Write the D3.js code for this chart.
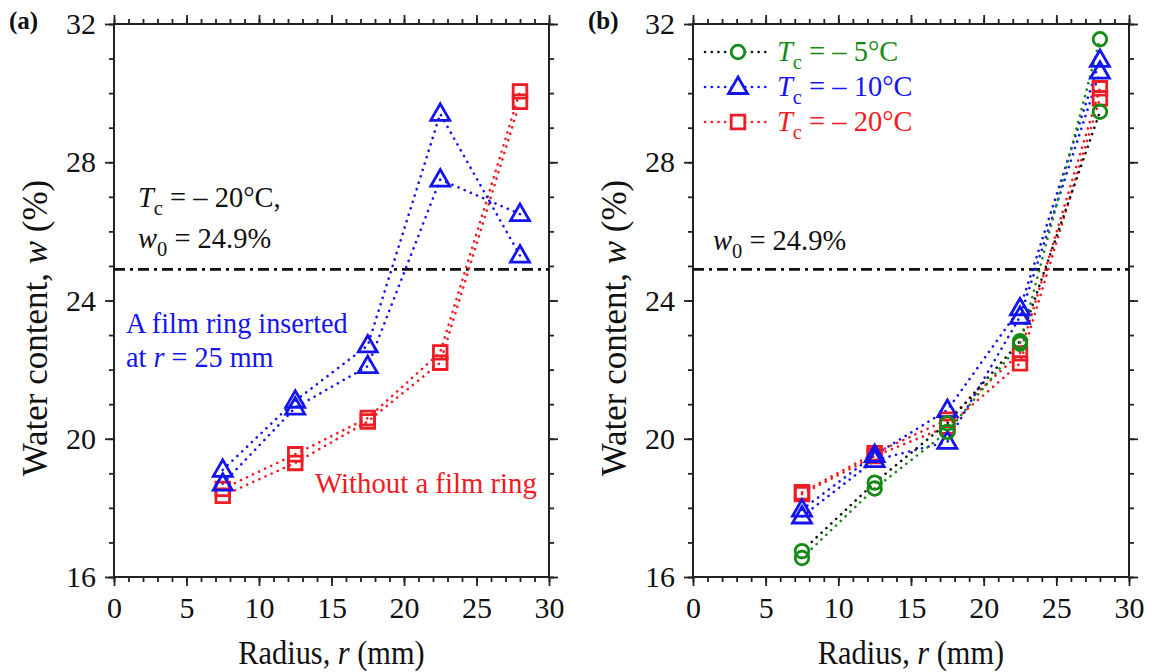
<!DOCTYPE html>
<html>
<head>
<meta charset="utf-8">
<script src="https://cdn.jsdelivr.net/npm/d3@7"></script>
</head>
<body style="margin:0;background:#fff">
<svg id="chart" width="1151" height="672" style="display:block"></svg>
<script>
// ---------------- data ----------------
const xTicks = [0, 5, 10, 15, 20, 25, 30];
const yTicks = [16, 20, 24, 28, 32];
const radius = [7.5, 12.5, 17.5, 22.5, 28];
const w0 = 24.9;

// panel (a): Tc = -20 °C
const aFilmRun1   = [19.1, 21.1, 22.7, 29.4, 25.3];
const aFilmRun2   = [18.7, 20.9, 22.1, 27.5, 26.5];
const aNoFilmRun1 = [18.55, 19.55, 20.6, 22.5, 30.05];
const aNoFilmRun2 = [18.35, 19.3, 20.5, 22.2, 29.75];

// panel (b)
const bTc5Run1  = [16.75, 18.73, 20.45, 22.82, 29.46];
const bTc5Run2  = [16.55, 18.56, 20.2, 22.75, 31.56];
const bTc10Run1 = [17.95, 19.53, 20.83, 23.77, 30.96];
const bTc10Run2 = [17.75, 19.38, 19.91, 23.53, 30.62];
const bTc20Run1 = [18.45, 19.58, 20.55, 22.47, 30.14];
const bTc20Run2 = [18.4, 19.5, 20.35, 22.18, 29.85];

const legendLabels = ["5°C", "10°C", "20°C"];

// ---------------- styles ----------------
const FONT = "Liberation Serif";
const BLUE = "#1414f0", RED = "#ee1c24", GREEN = "#168a16", BLACK = "#111";
const svg = d3.select("#chart");

function mkText(g, x, y, parts, opt) {
  opt = opt || {};
  const sx = opt.sx || 1;
  const size = opt.size || 30;
  const t = g.append("text")
    .attr("transform", `translate(${x},${y}) scale(${sx},1)`)
    .style("font-family", FONT)
    .style("font-size", size + "px")
    .attr("fill", opt.fill || BLACK)
    .attr("text-anchor", opt.anchor || "start");
  let shifted = 0;
  parts.forEach(p => {
    const ts = t.append("tspan").text(p.t).style("font-family", FONT);
    if (p.i) ts.style("font-style", "italic");
    if (p.sub) {
      const d = Math.round(size * 0.27);
      ts.attr("dy", d).style("font-size", (size * 0.72) + "px");
      shifted = d;
    } else if (shifted) {
      ts.attr("dy", -shifted);
      shifted = 0;
    }
  });
  return t;
}

function markerPath(type) {
  if (type === "tri") return "M0,-10 L9.5,6.5 L-9.5,6.5 Z";
  if (type === "sq") return "M-6.8,-6.8 H6.8 V6.8 H-6.8 Z";
  return d3.arc()({innerRadius: 0, outerRadius: 6.8, startAngle: 0, endAngle: 2 * Math.PI});
}

function panel(left, right, top, bottom, label, series) {
  const x = d3.scaleLinear().domain([0, 30]).range([left, right]);
  const y = d3.scaleLinear().domain([16, 32]).range([bottom, top]);
  const g = svg.append("g");
  const minorX = d3.range(0, 31, 1);
  const minorY = d3.range(16, 33, 1);
  const axStyle = sel => {
    sel.attr("font-family", FONT);
    sel.select(".domain").remove();
    sel.selectAll("line").attr("stroke", "#222").attr("stroke-width", 1.8);
  };
  // minor ticks
  g.append("g").attr("transform", `translate(0,${bottom})`)
    .call(d3.axisBottom(x).tickValues(minorX).tickSize(5).tickFormat("")).call(axStyle);
  g.append("g").attr("transform", `translate(0,${top})`)
    .call(d3.axisTop(x).tickValues(minorX).tickSize(5).tickFormat("")).call(axStyle);
  g.append("g").attr("transform", `translate(${left},0)`)
    .call(d3.axisLeft(y).tickValues(minorY).tickSize(5).tickFormat("")).call(axStyle);
  g.append("g").attr("transform", `translate(${right},0)`)
    .call(d3.axisRight(y).tickValues(minorY).tickSize(5).tickFormat("")).call(axStyle);
  // major ticks
  const bx = g.append("g").attr("transform", `translate(0,${bottom})`)
    .call(d3.axisBottom(x).tickValues(xTicks).tickSize(9).tickPadding(11).tickFormat(d3.format("d"))).call(axStyle);
  g.append("g").attr("transform", `translate(0,${top})`)
    .call(d3.axisTop(x).tickValues(xTicks).tickSize(9).tickFormat("")).call(axStyle);
  const ly = g.append("g").attr("transform", `translate(${left},0)`)
    .call(d3.axisLeft(y).tickValues(yTicks).tickSize(9).tickPadding(9).tickFormat(d3.format("d"))).call(axStyle);
  g.append("g").attr("transform", `translate(${right},0)`)
    .call(d3.axisRight(y).tickValues(yTicks).tickSize(9).tickFormat("")).call(axStyle);
  [bx, ly].forEach(a => a.selectAll("text")
    .style("font-family", FONT).style("font-size", "30px").attr("fill", "#111"));
  // frame
  g.append("rect").attr("x", left).attr("y", top).attr("width", right - left).attr("height", bottom - top)
    .attr("fill", "none").attr("stroke", "#222").attr("stroke-width", 2);

  // w0 line
  g.append("line").attr("x1", x(0)).attr("x2", x(30)).attr("y1", y(w0)).attr("y2", y(w0))
    .attr("stroke", BLACK).attr("stroke-width", 2.6).attr("stroke-dasharray", "11 5 3 5");

  // series lines
  const line = d3.line().x((d, i) => x(radius[i])).y(d => y(d));
  series.forEach(s => {
    g.append("path").attr("d", line(s.values)).attr("fill", "none")
      .attr("stroke", s.line).attr("stroke-width", 2.6)
      .attr("stroke-linecap", "round").attr("stroke-dasharray", "0.1 6.6");
  });
  series.forEach(s => {
    g.append("g").selectAll("path").data(s.values).join("path")
      .attr("transform", (d, i) => `translate(${x(radius[i])},${y(d)})`)
      .attr("d", markerPath(s.marker)).attr("fill", "none")
      .attr("stroke", s.color).attr("stroke-width", 2.8);
  });

  // axis titles
  mkText(g, (left + right) / 2, 664, [{t: "Radius, "}, {t: "r", i: 1}, {t: " (mm)"}],
    {size: 33, anchor: "middle", sx: 0.92});
  const yl = g.append("text")
    .attr("transform", `translate(${left - 67},328) rotate(-90)`)
    .style("font-family", FONT).style("font-size", "35px")
    .attr("text-anchor", "middle").attr("fill", BLACK);
  yl.append("tspan").text("Water content, ").style("font-family", FONT);
  yl.append("tspan").text("w").style("font-family", FONT).style("font-style", "italic");
  yl.append("tspan").text(" (%)").style("font-family", FONT);

  // panel label
  g.append("text").attr("x", left - 105).attr("y", 29)
    .style("font-family", FONT).style("font-size", "25px").style("font-weight", "bold")
    .attr("fill", BLACK).text(label);
  return {g, x, y};
}

// ---------------- panel (a) ----------------
const A = panel(114, 549, 24, 577, "(a)", [
  {values: aNoFilmRun1, color: RED, line: RED, marker: "sq"},
  {values: aNoFilmRun2, color: RED, line: RED, marker: "sq"},
  {values: aFilmRun1, color: BLUE, line: BLUE, marker: "tri"},
  {values: aFilmRun2, color: BLUE, line: BLUE, marker: "tri"}
]);
mkText(A.g, 138, 207, [{t: "T", i: 1}, {t: "c", sub: 1}, {t: " = – 20°C,"}], {sx: 0.95});
mkText(A.g, 138, 248, [{t: "w", i: 1}, {t: "0", sub: 1}, {t: " = 24.9%"}], {sx: 0.95});
mkText(A.g, 126, 333, [{t: "A film ring inserted"}], {fill: BLUE, sx: 0.94});
mkText(A.g, 126, 367, [{t: "at "}, {t: "r", i: 1}, {t: " = 25 mm"}], {fill: BLUE, sx: 0.94});
mkText(A.g, 315, 493, [{t: "Without a film ring"}], {fill: RED, sx: 0.96});

// ---------------- panel (b) ----------------
const B = panel(693, 1129, 24, 577, "(b)", [
  {values: bTc20Run1, color: RED, line: RED, marker: "sq"},
  {values: bTc20Run2, color: RED, line: RED, marker: "sq"},
  {values: bTc10Run1, color: BLUE, line: BLUE, marker: "tri"},
  {values: bTc10Run2, color: BLUE, line: BLUE, marker: "tri"},
  {values: bTc5Run1, color: GREEN, line: BLACK, marker: "circ"},
  {values: bTc5Run2, color: GREEN, line: GREEN, marker: "circ"}
]);
mkText(B.g, 713, 250, [{t: "w", i: 1}, {t: "0", sub: 1}, {t: " = 24.9%"}], {sx: 0.95});

// legend
const legendItems = [
  {label: legendLabels[0], color: GREEN, line: BLACK, marker: "circ"},
  {label: legendLabels[1], color: BLUE, line: BLUE, marker: "tri"},
  {label: legendLabels[2], color: RED, line: RED, marker: "sq"}
];
const lg = B.g.append("g");
legendItems.forEach((it, i) => {
  const cy = 52 + i * 35;
  lg.append("line").attr("x1", 705).attr("x2", 766).attr("y1", cy).attr("y2", cy)
    .attr("stroke", it.line).attr("stroke-width", 2.6).attr("stroke-linecap", "round")
    .attr("stroke-dasharray", "0.1 6.6");
  lg.append("path").attr("transform", `translate(738,${cy})`).attr("d", markerPath(it.marker))
    .attr("fill", "#fff").attr("stroke", it.color).attr("stroke-width", 2.8);
  mkText(lg, 777, cy + 9, [{t: "T", i: 1}, {t: "c", sub: 1}, {t: " = – " + it.label}], {fill: it.color, sx: 0.95});
});
</script>
</body>
</html>
